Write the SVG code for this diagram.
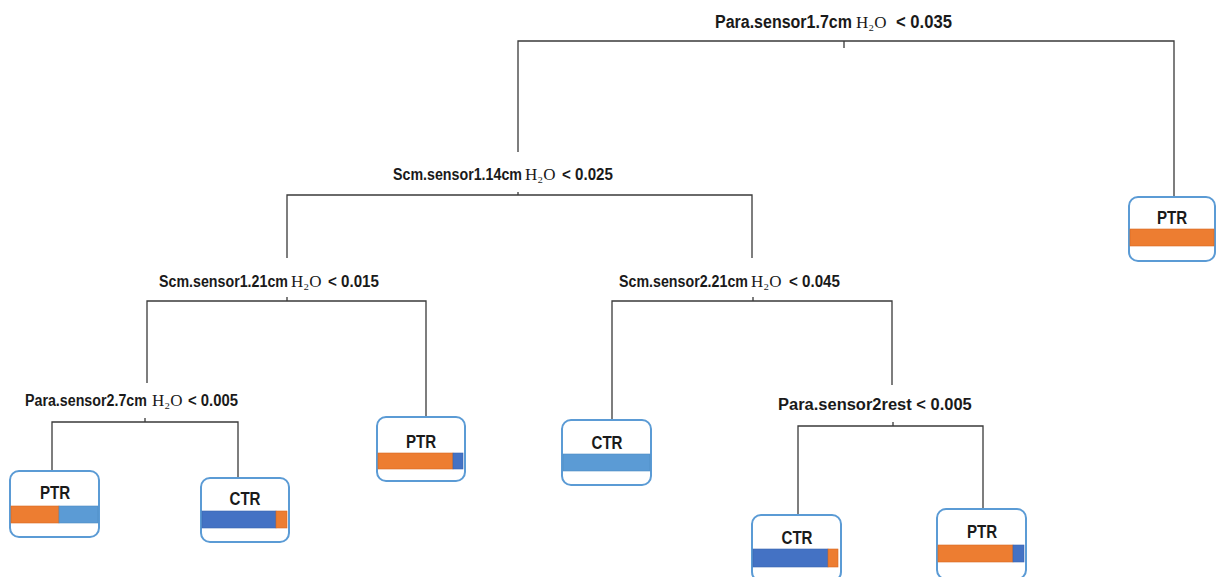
<svg xmlns="http://www.w3.org/2000/svg" width="1216" height="577" viewBox="0 0 1216 577">
<style>
.bg{fill:#ffffff}
.ln{stroke:#3a3a3a;stroke-width:1.3;fill:none}
.lbl{font-family:"Liberation Sans",Arial,sans-serif;font-weight:bold;font-size:17px;fill:#1a1a1a}
.big{font-size:18.5px}
.m{font-family:"Liberation Serif","DejaVu Serif","Times New Roman",serif;font-weight:normal;font-size:17px;fill:#1a1a1a}
.box{fill:#ffffff;stroke:#5b9bd5;stroke-width:2}
.lt{font-family:"Liberation Sans",Arial,sans-serif;font-weight:bold;font-size:18px;fill:#1a1a1a;text-anchor:middle}
.or{fill:#ed7d31;stroke:#d86a22;stroke-width:0.6}
.db{fill:#4472c4;stroke:#3a64b0;stroke-width:0.6}
.lb{fill:#5b9bd5;stroke:#4f8cc4;stroke-width:0.6}
</style>
<rect class="bg" x="0" y="0" width="1216" height="577"/>
<g id="connectors">
  <path class="ln" d="M518,152 V41 H1174 V197 M844,41 V48"/>
  <path class="ln" d="M287,258 V195 H752 V258 M518,192 V195"/>
  <path class="ln" d="M147,383 V301 H426 V417 M287,297 V301"/>
  <path class="ln" d="M612,420 V301 H892 V385 M753,297 V301"/>
  <path class="ln" d="M52,471 V422 H238 V478 M145,418 V422"/>
  <path class="ln" d="M798,515 V426 H983 V509 M893,422 V426"/>
</g>
<g id="split-root">
  <text class="lbl big" transform="translate(715,28) scale(0.865,1)">Para.sensor1.7cm</text>
  <text class="m big" x="856" y="28">H₂O</text>
  <text class="lbl big" transform="translate(896,28) scale(0.9,1)">&lt; 0.035</text>
</g>
<g id="split-scm1-14">
  <text class="lbl" transform="translate(393,180) scale(0.838,1)">Scm.sensor1.14cm</text>
  <text class="m" x="525" y="180">H₂O</text>
  <text class="lbl" transform="translate(562,180) scale(0.89,1)">&lt; 0.025</text>
</g>
<g id="split-scm1-21">
  <text class="lbl" transform="translate(159,287) scale(0.838,1)">Scm.sensor1.21cm</text>
  <text class="m" x="291" y="287">H₂O</text>
  <text class="lbl" transform="translate(328,287) scale(0.89,1)">&lt; 0.015</text>
</g>
<g id="split-scm2-21">
  <text class="lbl" transform="translate(619,287) scale(0.838,1)">Scm.sensor2.21cm</text>
  <text class="m" x="751" y="287">H₂O</text>
  <text class="lbl" transform="translate(789,287) scale(0.89,1)">&lt; 0.045</text>
</g>
<g id="split-para2-7">
  <text class="lbl" transform="translate(25,406) scale(0.838,1)">Para.sensor2.7cm</text>
  <text class="m" x="152" y="406">H₂O</text>
  <text class="lbl" transform="translate(188,406) scale(0.874,1)">&lt; 0.005</text>
</g>
<g id="split-para2-rest">
  <text class="lbl" transform="translate(778,410) scale(0.97,1)">Para.sensor2rest &lt; 0.005</text>
</g>
<g id="leaf-ptr-root">
  <rect class="box" x="1129" y="197" width="86" height="64" rx="9"/>
  <text class="lt" transform="translate(1172,224) scale(0.84,1)">PTR</text>
  <rect class="or" x="1130" y="229" width="84" height="17"/>
</g>
<g id="leaf-ptr-1">
  <rect class="box" x="10" y="471" width="89" height="66" rx="9"/>
  <text class="lt" transform="translate(55,499) scale(0.84,1)">PTR</text>
  <rect class="or" x="11" y="506" width="48" height="17"/>
  <rect class="lb" x="59" y="506" width="39" height="17"/>
</g>
<g id="leaf-ctr-1">
  <rect class="box" x="201" y="478" width="88" height="64" rx="9"/>
  <text class="lt" transform="translate(245,505) scale(0.84,1)">CTR</text>
  <rect class="db" x="202" y="511" width="74" height="17"/>
  <rect class="or" x="276" y="511" width="11" height="17"/>
</g>
<g id="leaf-ptr-2">
  <rect class="box" x="377" y="417" width="88" height="64" rx="9"/>
  <text class="lt" transform="translate(421,448) scale(0.84,1)">PTR</text>
  <rect class="or" x="378" y="453" width="75" height="16"/>
  <rect class="db" x="453" y="453" width="10" height="16"/>
</g>
<g id="leaf-ctr-2">
  <rect class="box" x="562" y="420" width="89" height="65" rx="9"/>
  <text class="lt" transform="translate(607,449) scale(0.84,1)">CTR</text>
  <rect class="lb" x="563" y="454" width="87" height="17"/>
</g>
<g id="leaf-ctr-3">
  <rect class="box" x="752" y="515" width="89" height="66" rx="9"/>
  <text class="lt" transform="translate(797,544) scale(0.84,1)">CTR</text>
  <rect class="db" x="753" y="549" width="75" height="18"/>
  <rect class="or" x="828" y="549" width="10" height="18"/>
</g>
<g id="leaf-ptr-3">
  <rect class="box" x="937" y="509" width="89" height="70" rx="9"/>
  <text class="lt" transform="translate(982,538) scale(0.84,1)">PTR</text>
  <rect class="or" x="938" y="545" width="75" height="17"/>
  <rect class="db" x="1013" y="545" width="11" height="17"/>
</g>
</svg>
